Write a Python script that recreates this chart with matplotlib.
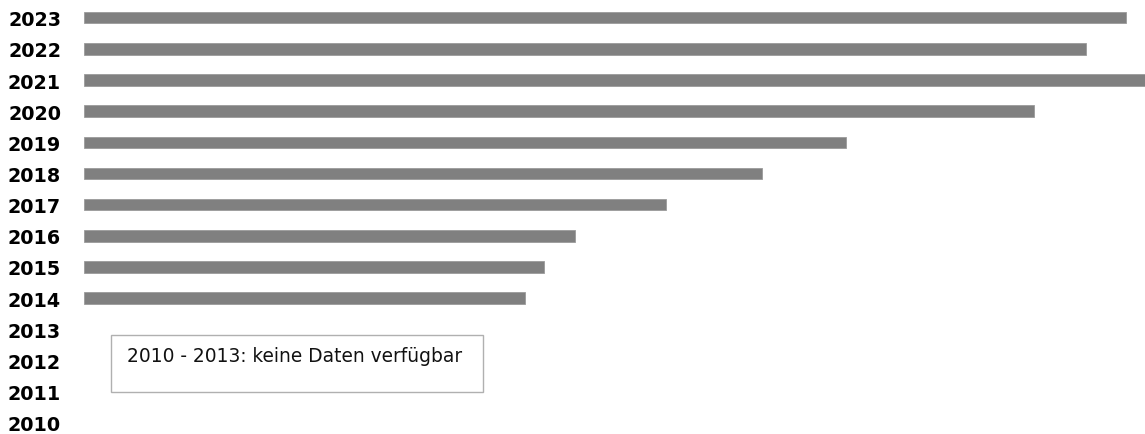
import matplotlib
matplotlib.use("Agg")
import matplotlib.pyplot as plt
from matplotlib.patches import Rectangle

years = [2010, 2011, 2012, 2013, 2014, 2015, 2016, 2017, 2018, 2019, 2020, 2021, 2022, 2023]
values = [None, None, None, None, 441, 460, 491, 582, 678, 762, 950, 1061, 1002, 1042]
note = "2010 - 2013: keine Daten verfügbar"

W, H = 1145, 435
fig = plt.figure(figsize=(W / 100, H / 100), dpi=100)
ax = fig.add_axes([84 / W, 0, 1 - 84 / W, 1])

pos = [i for i, v in enumerate(values) if v is not None]
vals = [v for v in values if v is not None]
ax.barh(pos, vals, height=0.37, color="#808080", edgecolor="#9a9a9a", linewidth=0.6)

ax.set_xlim(0, max(vals))
ax.set_ylim(-0.36, 13.60)
ax.set_yticks(range(len(years)))
ax.set_yticklabels([str(y) for y in years], fontsize=13.8, fontweight="bold",
                   family="DejaVu Sans")
ax.tick_params(axis="y", length=0, pad=16.5)
ax.set_xticks([])
for s in ax.spines.values():
    s.set_visible(False)

# annotation box
fig.patches.append(Rectangle((111 / W, 1 - 393 / H), (483 - 111) / W, (393 - 336) / H,
                             transform=fig.transFigure, facecolor="white",
                             edgecolor="#b0b0b0", linewidth=1))
fig.text(127 / W, 1 - 357 / H, note, fontsize=13.4, va="center", ha="left",
         color="#111111")

fig.savefig("out.png", dpi=100)
